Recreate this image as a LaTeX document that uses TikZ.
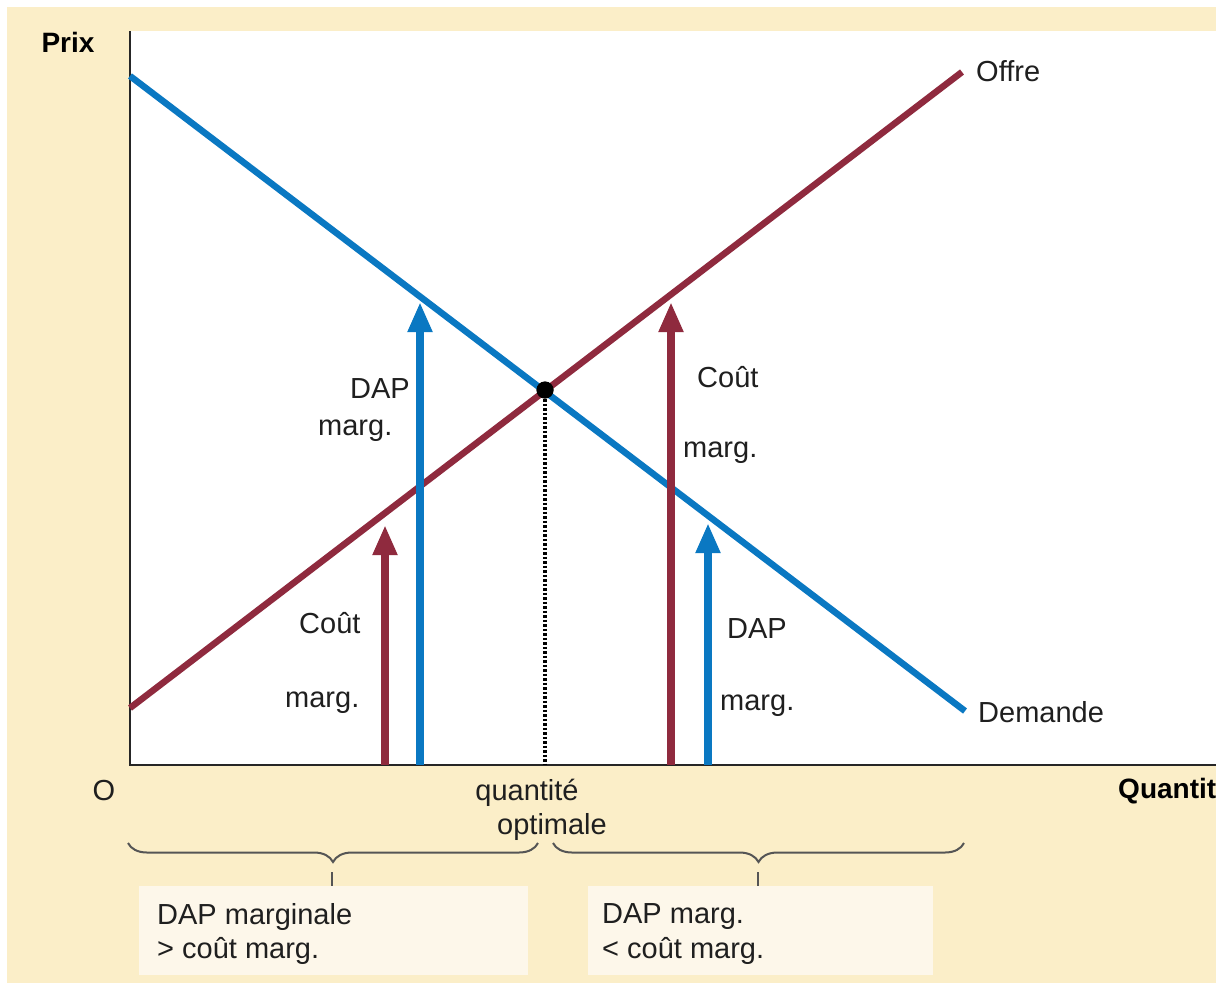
\documentclass[tikz,border=0pt]{standalone}
\usepackage{fontspec}
\setmainfont{Liberation Sans}
\usetikzlibrary{arrows.meta,decorations.pathreplacing}
\definecolor{beige}{HTML}{FBEEC8}
\definecolor{boxfill}{HTML}{FDF7EA}
\definecolor{dblue}{HTML}{0A78C2}
\definecolor{dred}{HTML}{8F2A3E}
\definecolor{bracegray}{HTML}{555555}
\tikzset{
  txt/.style={font=\fontsize{29}{34}\selectfont, inner sep=0pt, text=black!88},
  bold/.style={font=\fontsize{28}{34}\selectfont\bfseries, inner sep=0pt, text=black},
  curve/.style={line width=6.5pt},
  marrow/.style={line width=8.5pt, -{Triangle[length=30pt,width=23pt]}},
  bracestyle/.style={draw=bracegray, line width=2pt, decorate, decoration={brace, mirror, amplitude=19pt}},
  tickstyle/.style={draw=bracegray, line width=2pt},
  infobox/.style={fill=boxfill, draw=none},
  eqdot/.style={circle, fill=black, minimum size=17pt, inner sep=0pt},
  dots/.style={line width=3.5pt, dash pattern=on 2.5pt off 2pt}
}
\begin{document}
\begin{tikzpicture}[x=1pt,y=-1pt]
\useasboundingbox (0,0) rectangle (1222,983);
\fill[white] (0,0) rectangle (1222,983);
\fill[beige] (7,7) rectangle (1216,983);
\fill[white] (130,31) rectangle (1216,765);

% info boxes
\fill[infobox] (139,886) rectangle (528,975);
\fill[infobox] (588,886) rectangle (933,975);

% coordinates
\coordinate (yTop) at (130,31);
\coordinate (orig) at (130,765);
\coordinate (xEnd) at (1216,765);
\coordinate (dS) at (130,76);
\coordinate (dE) at (965,711);
\coordinate (sS) at (130,708);
\coordinate (sE) at (962,72);
\coordinate (eqx) at (545,765);

% axes
\draw[black!85, line width=2pt] (yTop) -- (orig) -- (xEnd);

% curves
\draw[dblue, curve] (dS) -- (dE);
\draw[dred, curve] (sS) -- (sE);

% dotted line and equilibrium
\node[eqdot] (eq) at (545,390) {};
\draw[dots] (eq.center) -- (eqx);
\node[eqdot] at (eq) {};

% arrows
\coordinate (a1b) at (385,765); \coordinate (a1t) at (385,525);
\coordinate (a2b) at (420,765); \coordinate (a2t) at (420,302);
\coordinate (a3b) at (671,765); \coordinate (a3t) at (671,302);
\coordinate (a4b) at (708,765); \coordinate (a4t) at (708,523);
\draw[marrow, dred] (a1b) -- (a1t);
\draw[marrow, dblue] (a2b) -- (a2t);
\draw[marrow, dred] (a3b) -- (a3t);
\draw[marrow, dblue] (a4b) -- (a4t);

% labels in plot
\node[txt, anchor=base west] (l1) at (350,398) {DAP};
\node[txt, anchor=base west] (l2) at (318,435) {marg.};
\node[txt, anchor=base west] (l3) at (697,387) {Coût};
\node[txt, anchor=base west] (l4) at (683,457) {marg.};
\node[txt, anchor=base west] (l5) at (299,633) {Coût};
\node[txt, anchor=base west] (l6) at (285,707) {marg.};
\node[txt, anchor=base west] (l7) at (727,638) {DAP};
\node[txt, anchor=base west] (l8) at (720,710) {marg.};

\node[txt, anchor=west] (offre) at (976,71) {Offre};
\node[txt, anchor=west] (dem) at (978,712) {Demande};

% axis labels
\node[bold] (prix) at (68,42) {Prix};
\node[txt] (o) at (104,791) {O};
\begin{scope}
\clip (0,0) rectangle (1216,983);
\node[bold, anchor=base west] (quant) at (1118,798) {Quantité};
\end{scope}
\node[txt, anchor=base] (q1) at (527,800) {quantité};
\node[txt, anchor=base] (q2) at (552,834) {optimale};

% braces
\coordinate (b1l) at (128,843); \coordinate (b1r) at (538,843);
\coordinate (b2l) at (553,843); \coordinate (b2r) at (964,843);
\draw[bracestyle] (b1l) -- (b1r);
\draw[bracestyle] (b2l) -- (b2r);
\coordinate (t1a) at (332,872); \coordinate (t1b) at (332,886);
\coordinate (t2a) at (758,872); \coordinate (t2b) at (758,886);
\draw[tickstyle] (t1a) -- (t1b);
\draw[tickstyle] (t2a) -- (t2b);

% box texts
\node[txt, anchor=base west] (bx1) at (157,924) {DAP marginale};
\node[txt, anchor=base west] (bx2) at (157,958) {> coût marg.};
\node[txt, anchor=base west] (bx3) at (602,923) {DAP marg.};
\node[txt, anchor=base west] (bx4) at (602,958) {< coût marg.};
\end{tikzpicture}
\end{document}
